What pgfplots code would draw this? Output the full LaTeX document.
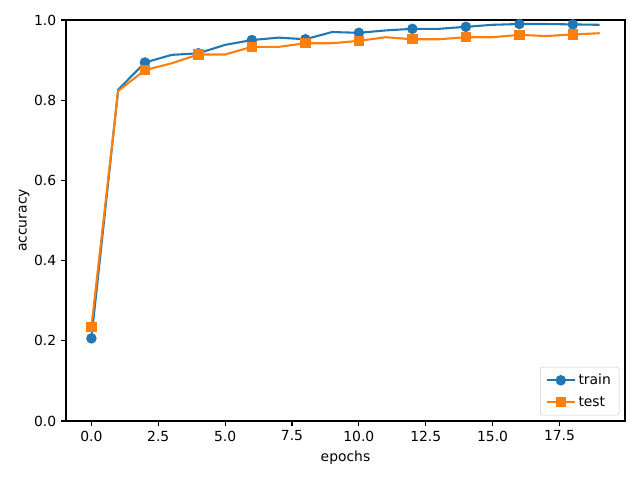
\documentclass[border=0pt]{standalone}
\usepackage{fontspec}
\setmainfont{DejaVu Sans}
\usepackage{pgfplots}
\pgfplotsset{compat=1.18}
\definecolor{c0}{HTML}{1F77B4}
\definecolor{c1}{HTML}{FF7F0E}
\begin{document}
\begin{tikzpicture}
\begin{axis}[
    scale only axis,
    width=402.5pt, height=288.7pt,
    xmin=-0.95, xmax=19.95, ymin=0, ymax=1,
    xtick={0,2.5,...,17.5},
    ytick={0,0.2,...,1.0},
    /pgf/number format/assume math mode=true,
    /pgf/number format/.cd, fixed, fixed zerofill, precision=1, /pgfplots/.cd,
    tick align=outside, tick pos=left,
    major tick length=3.5pt,
    tick style={black, line width=0.8pt},
    axis line style={line width=0.8pt},
    ticklabel style={font=\fontsize{10}{12}\selectfont},
    label style={font=\fontsize{10}{12}\selectfont},
    xlabel={epochs}, ylabel={accuracy},
    ylabel style={yshift=-3.6pt},
    legend style={font=\fontsize{10}{12}\selectfont, draw=black!20, rounded corners=2pt,
        inner xsep=4pt, inner ysep=3pt, row sep=3pt,
        at={(1,0)}, anchor=south east, xshift=-4pt, yshift=4pt},
    legend image code/.code={
        \draw[mark repeat=2, mark phase=2] plot coordinates {(0pt,0pt) (10pt,0pt) (20pt,0pt)};
    },
    legend cell align=left,
]
\addplot[c0, line width=1.5pt, mark=*, mark size=3pt, mark repeat=2, mark options={fill=c0, draw=c0}] coordinates {
(0,0.206) (1,0.826) (2,0.894) (3,0.913) (4,0.917) (5,0.938) (6,0.950) (7,0.956)
(8,0.952) (9,0.970) (10,0.968) (11,0.974) (12,0.978) (13,0.978) (14,0.983)
(15,0.988) (16,0.990) (17,0.990) (18,0.989) (19,0.988)
};
\addlegendentry{train}
\addplot[c1, line width=1.5pt, mark=square*, mark size=3pt, mark repeat=2, mark options={fill=c1, draw=c1}] coordinates {
(0,0.235) (1,0.823) (2,0.875) (3,0.892) (4,0.914) (5,0.914) (6,0.933) (7,0.933)
(8,0.942) (9,0.942) (10,0.948) (11,0.957) (12,0.952) (13,0.952) (14,0.957)
(15,0.957) (16,0.963) (17,0.960) (18,0.964) (19,0.967)
};
\addlegendentry{test}
\end{axis}
\useasboundingbox ([xshift=-47.52pt, yshift=-42.48pt]current axis.south west) rectangle ([xshift=10.8pt, yshift=14.4pt]current axis.north east);
\end{tikzpicture}
\end{document}
